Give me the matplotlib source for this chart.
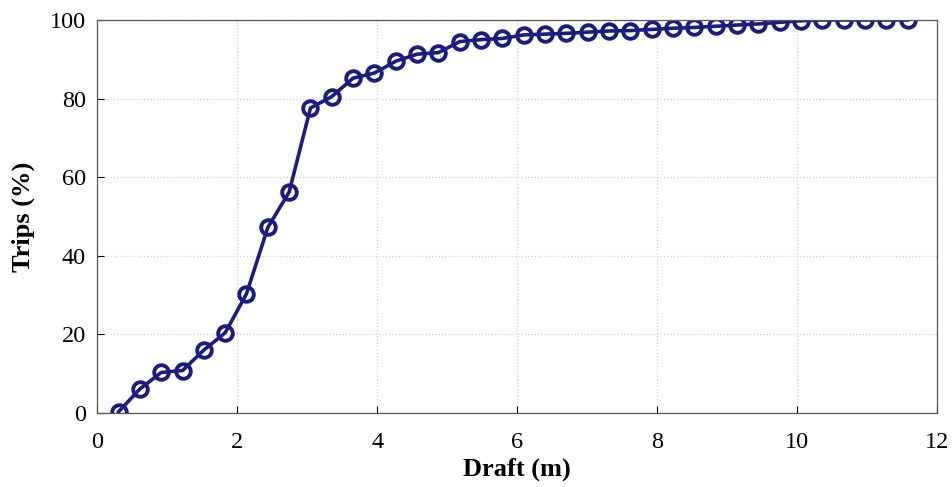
import numpy as np
import matplotlib.pyplot as plt

# draft in 1 ft steps (0.3048 m)
draft = np.arange(1, 39) * 0.3048
trips = [0.3, 6.1, 10.3, 10.8, 16.0, 20.4, 30.3, 47.2, 56.2, 77.6,
         80.5, 85.2, 86.5, 89.5, 91.3, 91.7, 94.5, 95.0, 95.3, 96.2,
         96.4, 96.6, 96.9, 97.2, 97.3, 97.6, 97.9, 98.1, 98.4, 98.7,
         99.0, 99.4, 99.8, 100.0, 100.0, 100.0, 100.0, 100.0]

plt.rcParams['font.family'] = ['Liberation Serif', 'DejaVu Serif']

fig = plt.figure(figsize=(9.53, 4.87), dpi=100)
ax = fig.add_axes([0.102, 0.152, 0.881, 0.807])

ax.plot(draft, trips, color='#1c1c80', linewidth=2.6, marker='o',
        markersize=10.5, markerfacecolor='none', markeredgewidth=2.8)

ax.set_xlim(0, 12)
ax.set_ylim(0, 100)
ax.set_xticks(range(0, 13, 2))
ax.set_yticks(range(0, 101, 20))
ax.grid(True, color='#cfcfcf', linestyle=':', linewidth=0.9)
ax.tick_params(direction='in', labelsize=17.5, length=5, top=False, right=False)
ax.tick_params(axis='x', pad=14)
ax.tick_params(axis='y', pad=8)
for s in ax.spines.values():
    s.set_color('#555555')
    s.set_linewidth(0.9)

ax.set_xlabel('Draft (m)', fontsize=19, fontweight='bold', labelpad=3)
ax.set_ylabel('Trips (%)', fontsize=19, fontweight='bold', labelpad=11)

fig.savefig('out.png', dpi=100)
